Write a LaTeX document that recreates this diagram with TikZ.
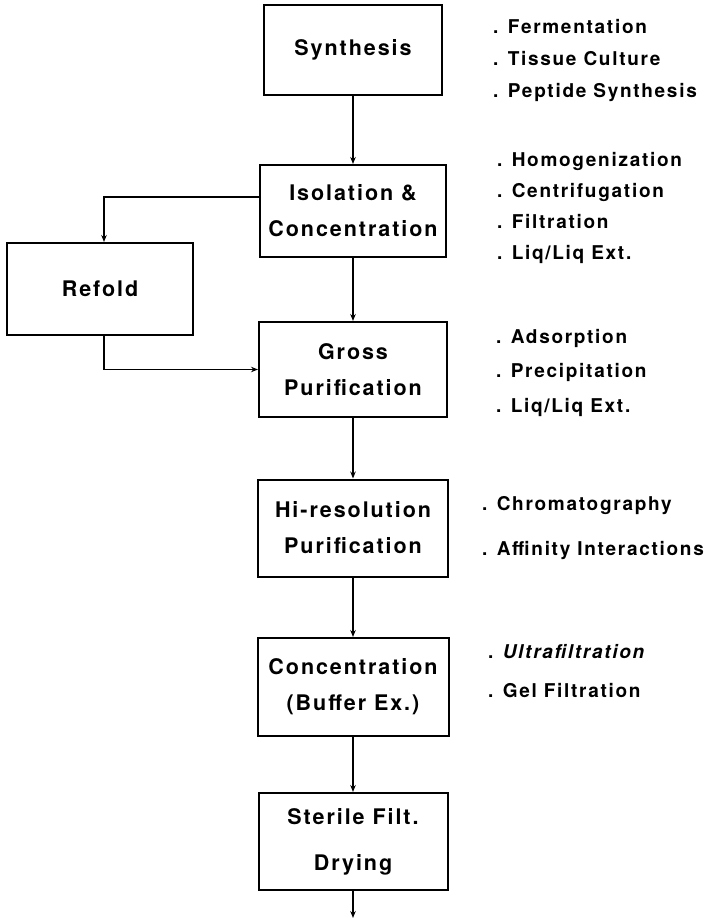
\documentclass[tikz,border=0pt]{standalone}
\usepackage{fontspec}
\setmainfont{TeX Gyre Heros}
\usepackage{tikz}
\usetikzlibrary{arrows.meta}
\tikzset{every picture/.append style={x=1pt,y=-1pt}}
\tikzset{stage/.style={draw, line width=2pt, align=center, inner sep=0pt, minimum width=188pt, minimum height=95pt, font=\bfseries\fontsize{21.5}{36}\selectfont\addfontfeature{LetterSpace=9}}}
\tikzset{methods/.style={anchor=north west, align=left, inner sep=0pt, font=\bfseries\fontsize{19}{#1}\selectfont\addfontfeature{LetterSpace=9}}}
\tikzset{methods/.default=31}
\tikzset{edge/.style={line width=1.6pt}}
\tikzset{flow/.style={edge, -{Stealth[length=7pt,width=5.5pt]}}}
\begin{document}
\begin{tikzpicture}
  \useasboundingbox (0,0) rectangle (722,918);

  \node (syn) at (353,50)[stage, minimum width=178pt, minimum height=90pt]{Synthesis};
  \node (iso) at (353,211)[stage, minimum width=186pt, minimum height=92pt]{Isolation \&\\Concentration};
  \node (refold) at (100,289)[stage, minimum width=186pt, minimum height=92pt]{Refold};
  \node (gross) at (353,369.5)[stage]{Gross\\Purification};
  \node (hires) at (353,528)[stage, minimum width=190pt, minimum height=97pt]{Hi-resolution\\Purification};
  \node (conc) at (353,687)[stage, minimum width=191pt, minimum height=98pt]{Concentration\\(Buffer Ex.)};
  \node (steril) at (353,841.5)[stage, minimum width=189pt, minimum height=97pt]{Sterile Filt.\\[10pt]Drying};
  \coordinate (out) at (353,918);

  \node (synL) at (493,19)[methods=32]{. Fermentation\\. Tissue Culture\\. Peptide Synthesis};
  \node (isoL) at (497,152)[methods=31]{. Homogenization\\. Centrifugation\\. Filtration\\. Liq/Liq Ext.};
  \node (grossL) at (496,329)[methods=34.5]{. Adsorption\\. Precipitation\\. Liq/Liq Ext.};
  \node (hiresL) at (482,496)[methods=45]{. Chromatography\\. Affinity Interactions};
  \node (concL) at (488,644)[methods=39]{. \textit{Ultrafiltration}\\. Gel Filtration};

  \draw[flow] (syn) -- (iso);
  \draw[flow] (iso) -- (gross);
  \draw[flow] (gross) -- (hires);
  \draw[flow] (hires) -- (conc);
  \draw[flow] (conc) -- (steril);
  \draw[flow] (steril) -- (out);
  \draw[flow] ([yshift=14pt]iso.west) -| ([xshift=4pt]refold.north);
  \draw[flow] ([xshift=4pt]refold.south) |- (gross.west);
\end{tikzpicture}
\end{document}
